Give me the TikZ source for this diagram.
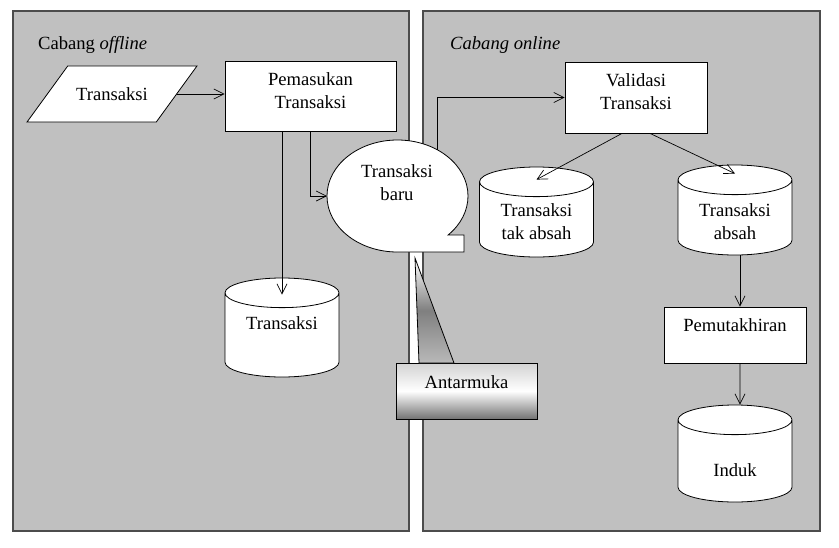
\documentclass[tikz,border=0pt]{standalone}
\usepackage{fontspec}
\setmainfont{Liberation Serif}
\usetikzlibrary{arrows.meta}
\usetikzlibrary{shapes.geometric}
\usetikzlibrary{calc}
\definecolor{panelgray}{RGB}{192,192,192}

\begin{document}
\begin{tikzpicture}[x=1pt, y=-1pt,
		font=\fontsize{18.6pt}{23pt}\selectfont,
		panel/.style={draw=black!70, fill=panelgray, line width=1.2pt},
		box/.style={draw, fill=white, line width=0.8pt, inner sep=0pt},
		db/.style={cylinder, shape border rotate=90, aspect=0.26, draw, fill=white, line width=0.8pt,
			inner xsep=57pt, inner ysep=0pt, anchor=shape center},
		arr/.style={-{Straight Barb[length=10pt, width=10pt]}, line width=0.7pt}]
		\useasboundingbox (0, 0) rectangle (839, 547);
		\fill[white] (0, 0) rectangle (839, 547);
		% the two branches
		\draw[panel] (13, 11) rectangle (409, 531);
		\draw[panel] (423, 11) rectangle (820, 531);
		\node[anchor=base west, inner sep=0pt] (offtitle) at (38, 49) {Cabang \textit{offline}};
		\node[anchor=base west, inner sep=0pt] (ontitle) at (450, 49) {\textit{Cabang online}};

		% offline side
		\node[trapezium, trapezium left angle=54, trapezium right angle=126, trapezium stretches body,
			draw, fill=white, line width=0.8pt, minimum width=170pt, inner xsep=0pt, inner ysep=21.5pt]
			(par) at (112, 94) {Transaksi};
		\node[box, minimum width=171pt, minimum height=70pt,
			label={[align=center, yshift=5.5pt]center:Pemasukan\\Transaksi}] (pem) at (310.5, 96) {};
		\node[db, minimum width=114pt, minimum height=99pt,
			label={[yshift=19.3pt]center:Transaksi}] (trx) at (282, 327.5) {};

		% balloon
		\coordinate (bc) at (397.5, 196);
		\filldraw[fill=white, line width=0.8pt] (bc) ++(90:70.5 and 56)
			arc[start angle=90, end angle=404.1, x radius=70.5, y radius=56]
			-- (464, 235) -- (464, 252) -- cycle;
		\node[align=center] (baru) at (397, 182.5) {Transaksi\\baru};
		\coordinate (bl) at ($(bc) + (180:70.5 and 56)$);
		\coordinate (bt) at ($(bc) + (304:70.5 and 56)$);

		% interface callout
		\node[box, minimum width=141pt, minimum height=56pt, top color=gray!35, bottom color=black!55, middle color=white,
			label={[yshift=9pt]center:Antarmuka}] (antar) at (466.5, 391) {};
		\draw[line width=0.8pt, top color=white, bottom color=gray!55, middle color=gray]
			(415, 258) -- (454, 363) -- (419, 363) -- cycle;

		% online side
		\node[box, minimum width=142pt, minimum height=71pt,
			label={[align=center, yshift=6pt]center:Validasi\\Transaksi}] (val) at (636, 97.5) {};
		\node[db, minimum width=113pt, minimum height=90pt,
			label={[align=center, yshift=5.3pt]center:Transaksi\\tak absah}] (bad) at (536.5, 212) {};
		\node[db, minimum width=114pt, minimum height=90pt,
			label={[align=center, yshift=3.3pt]center:Transaksi\\absah}] (good) at (735, 210) {};
		\node[box, minimum width=142pt, minimum height=56pt,
			label={[yshift=10pt]center:Pemutakhiran}] (upd) at (735, 335) {};
		\node[db, minimum width=114pt, minimum height=97pt,
			label={[yshift=-1.7pt]center:Induk}] (induk) at (735, 453.5) {};

		% flows
		\draw[arr] (par.east) -- (par.east -| pem.west);
		\draw[arr] (pem.south -| trx.north) -- ([yshift=-17pt]trx.north);
		\draw[arr] (pem.south) |- (bl);
		\draw[arr] (bt) |- (val.west);
		\draw[arr] ([xshift=-14pt]val.south) -- ([yshift=-13pt]bad.north);
		\draw[arr] ([xshift=14pt]val.south) -- ([yshift=-9pt]good.north);
		\draw[arr] ([xshift=5pt]good.south) -- ([xshift=5pt]upd.north);
		\draw[arr] ([xshift=5pt]upd.south) -- ([xshift=5pt]induk.north);
	\end{tikzpicture}
\end{document}
